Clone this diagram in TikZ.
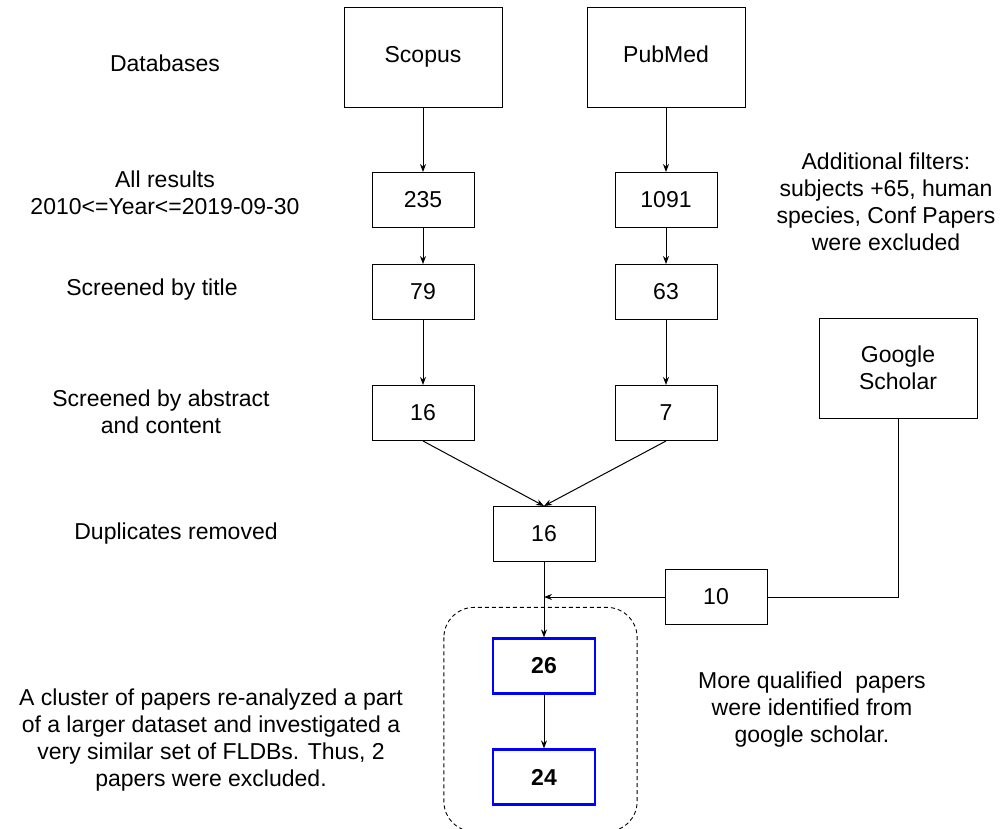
\documentclass[tikz,border=0pt]{standalone}
\usepackage{fontspec}
\setmainfont{Liberation Sans}
\usetikzlibrary{arrows.meta,positioning,calc}
\definecolor{finalBlue}{RGB}{0,0,255}

\begin{document}
\begin{tikzpicture}[x=1pt,y=-1pt,
  every node/.style={font=\fontsize{23}{27}\selectfont},
  src/.style={rectangle,draw,line width=1pt,minimum width=158pt,minimum height=100pt,
              align=center,inner sep=0pt},
  cnt/.style={rectangle,draw,line width=1pt,minimum width=102pt,minimum height=55pt,
              align=center,inner sep=0pt},
  fin/.style={cnt,draw=finalBlue,line width=2.2pt,font=\fontsize{23}{27}\selectfont\bfseries},
  lbl/.style={align=center,inner sep=0pt},
  grp/.style={draw,dash pattern=on 4pt off 3pt,line width=0.9pt,rounded corners=30pt},
  arr/.style={-{Stealth[length=8pt,width=6pt]},line width=1pt}
]
  \useasboundingbox (0,0) rectangle (1003,828);

  % sources
  \node[src,text height=16pt,text depth=5pt](scopus) at (423,57) {Scopus};
  \node[src,text height=16pt,text depth=5pt](pubmed) at (666,57) {PubMed};
  \node[src](gs) at (898,368) {Google\\Scholar};

  % counts
  \node[cnt](n235)  at (423,200) {235};
  \node[cnt](n1091) at (666,200) {1091};
  \node[cnt](n79)   at (423,292) {79};
  \node[cnt](n63)   at (666,292) {63};
  \node[cnt](n16)   at (423,413) {16};
  \node[cnt](n7)    at (666,413) {7};
  \node[cnt](dup)   at (544,534) {16};
  \node[cnt](n10)   at (716,597) {10};
  \node[fin](n26)   at (544,666) {26};
  \node[fin](n24)   at (544,777) {24};

  % labels
  \node[lbl](lDb)   at (165,63)  {Databases};
  \node[lbl](lAll)  at (165,193) {All results\\2010<=Year<=2019-09-30};
  \node[lbl](lTit)  at (152,290) {Screened by title};
  \node[lbl](lAbs)  at (161,412) {Screened by abstract\\and content};
  \node[lbl](lDup)  at (176,534) {Duplicates removed};
  \node[lbl](lFilt) at (886,202) {Additional filters:\\subjects +65, human\\species, Conf Papers\\were excluded};
  \node[lbl](lClu)  at (211,740) {A cluster of papers re-analyzed a part\\of a larger dataset and investigated a\\very similar set of FLDBs. Thus, 2\\papers were excluded.};
  \node[lbl](lMore) at (812,710) {More qualified\ \ papers\\were identified from\\google scholar.};

  \draw[grp] ($(n26.north west)+(-48,-30)$) rectangle ($(n24.south east)+(41,26)$);

  \draw[arr](scopus)--(n235);
  \draw[arr](pubmed)--(n1091);
  \draw[arr](n235)--(n79);
  \draw[arr](n1091)--(n63);
  \draw[arr](n79)--(n16);
  \draw[arr](n63)--(n7);
  \draw[arr](n16.south)--(dup.north);
  \draw[arr](n7.south)--(dup.north);
  \draw[line width=1pt](gs.south)|-(n10.east);
  \coordinate (join) at (dup.south |- n10.west);
  \draw[arr](n10.west)--(join);
  \draw[arr](dup)--(n26);
  \draw[arr](n26)--(n24);
\end{tikzpicture}
\end{document}
